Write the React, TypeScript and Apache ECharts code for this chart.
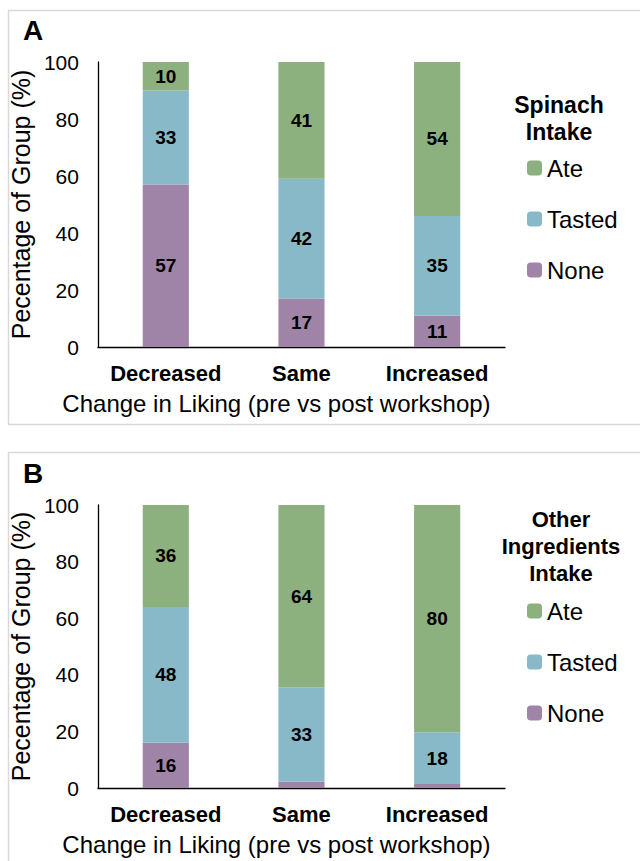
import React, { useEffect, useRef } from "react";
import * as echarts from "echarts";

const categories = ["Decreased", "Same", "Increased"];
const seriesNames = ["Ate", "Tasted", "None"];
const yTicks = [0, 20, 40, 60, 80, 100];

// Panel A: Spinach intake (%)
const spinachNone = [57, 17, 11];
const spinachTasted = [33, 42, 35];
const spinachAte = [10, 41, 54];

// Panel B: Other ingredients intake (%)
const otherNone = [16, 2.2, 1.4];
const otherTasted = [48, 33.4, 18.3];
const otherAte = [36, 64.4, 80.3];

const colors: Record<string, string> = {
  Ate: "#8db07f",
  Tasted: "#88b9c8",
  None: "#a084a8",
};

const FONT = "'Liberation Sans', Arial, sans-serif";

export default function App() {
  const ref = useRef<HTMLDivElement>(null);

  useEffect(() => {
    if (!ref.current) return;
    const chart = echarts.init(ref.current, undefined, { renderer: "svg" });

    const grids = [
      { left: 94, top: 62, width: 411, height: 285 },
      { left: 94, top: 505, width: 411, height: 283 },
    ];

    const makeX = (gi: number) => ({
      type: "category",
      gridIndex: gi,
      data: categories,
      axisLine: { show: true, lineStyle: { color: "#000", width: 1.3 } },
      axisTick: { show: false },
      axisLabel: {
        interval: 0,
        margin: 15,
        fontFamily: FONT,
        fontSize: 22,
        fontWeight: "bold",
        color: "#000",
      },
      name: "Change in Liking (pre vs post workshop)",
      nameLocation: "middle",
      nameGap: 44,
      nameTextStyle: {
        fontFamily: FONT,
        fontSize: 24,
        color: "#000",
        padding: [0, 50, 0, 0],
      },
    });

    const makeY = (gi: number) => ({
      type: "value",
      gridIndex: gi,
      min: yTicks[0],
      max: yTicks[yTicks.length - 1],
      interval: 20,
      axisLine: { show: true, lineStyle: { color: "#000", width: 1.3 } },
      axisTick: { show: false },
      splitLine: { show: false },
      axisLabel: {
        margin: 19,
        fontFamily: FONT,
        fontSize: 21,
        color: "#000",
      },
      name: "Pecentage of Group (%)",
      nameLocation: "middle",
      nameGap: 52,
      nameTextStyle: { fontFamily: FONT, fontSize: 25, color: "#000" },
    });

    const labelFmt = (p: any) => (p.value >= 5 ? String(Math.round(p.value)) : "");

    const makeSeries = (gi: number, stack: string, none: number[], tasted: number[], ate: number[]) =>
      [
        ["None", none],
        ["Tasted", tasted],
        ["Ate", ate],
      ].map(([name, data]) => ({
        type: "bar",
        name: name as string,
        xAxisIndex: gi,
        yAxisIndex: gi,
        stack,
        data: data as number[],
        barWidth: "34%",
        itemStyle: { color: colors[name as string] },
        label: {
          show: true,
          position: "inside",
          formatter: labelFmt,
          fontFamily: FONT,
          fontSize: 19,
          fontWeight: "bold",
          color: "#000",
        },
      }));

    const legendCommon = {
      orient: "vertical",
      data: seriesNames,
      icon: "roundRect",
      itemWidth: 15,
      itemHeight: 15,
      itemGap: 27,
      itemStyle: { borderWidth: 0 },
      textStyle: { fontFamily: FONT, fontSize: 24, color: "#000", lineHeight: 24 },
      selectedMode: false,
    };

    const titleStyle = {
      fontFamily: FONT,
      fontSize: 23,
      fontWeight: "bold",
      fill: "#000",
      textAlign: "center",
      lineHeight: 27,
    };

    chart.setOption({
      animation: false,
      backgroundColor: "#fff",
      grid: grids,
      xAxis: [makeX(0), makeX(1)],
      yAxis: [makeY(0), makeY(1)],
      legend: [
        { ...legendCommon, left: 522, top: 151 },
        { ...legendCommon, left: 522, top: 594 },
      ],
      series: [
        ...makeSeries(0, "a", spinachNone, spinachTasted, spinachAte),
        ...makeSeries(1, "b", otherNone, otherTasted, otherAte),
      ],
      graphic: [
        {
          type: "rect",
          shape: { x: 8.5, y: 10.5, width: 640, height: 414 },
          style: { fill: "none", stroke: "#d9d9d9", lineWidth: 1.5 },
          z: -1,
        },
        {
          type: "rect",
          shape: { x: 8.5, y: 452.5, width: 640, height: 420 },
          style: { fill: "none", stroke: "#d9d9d9", lineWidth: 1.5 },
          z: -1,
        },
        {
          type: "text",
          x: 23,
          y: 16,
          style: { text: "A", fontFamily: FONT, fontSize: 28, fontWeight: "bold", fill: "#000" },
        },
        {
          type: "text",
          x: 23,
          y: 459,
          style: { text: "B", fontFamily: FONT, fontSize: 28, fontWeight: "bold", fill: "#000" },
        },
        {
          type: "text",
          x: 559,
          y: 91,
          style: { ...titleStyle, text: "Spinach\nIntake" },
        },
        {
          type: "text",
          x: 561,
          y: 506,
          style: { ...titleStyle, fontSize: 22, text: "Other\nIngredients\nIntake" },
        },
      ],
    });

    return () => chart.dispose();
  }, []);

  return (
    <div
      ref={ref}
      style={{ position: "fixed", left: 0, top: 0, width: 640, height: 861 }}
    />
  );
}
